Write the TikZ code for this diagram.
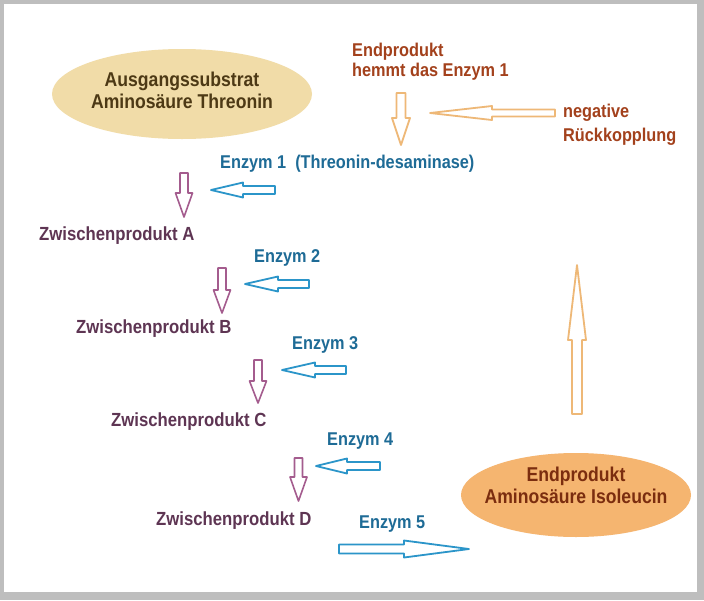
\documentclass[tikz,border=0pt]{standalone}
\usepackage{fontspec}
\setmainfont{Liberation Sans}[FakeStretch=0.88]
\usetikzlibrary{calc,shapes.geometric}
\definecolor{framegray}{HTML}{BEBEBE}
\definecolor{tanfill}{HTML}{F1DCA8}
\definecolor{orangefill}{HTML}{F5B570}
\definecolor{arrorange}{HTML}{EEB877}
\definecolor{blueline}{HTML}{2B95C9}
\definecolor{bluetext}{HTML}{1E6B96}
\definecolor{purpline}{HTML}{A45C8E}
\definecolor{purptext}{HTML}{5E3553}
\definecolor{rust}{HTML}{A3411C}
\definecolor{darkrust}{HTML}{7B2D0F}
\definecolor{olivebrown}{HTML}{4D3915}
% #1 tail, #2 tip, #3 shaft half width, #4 head half width, #5 head length, #6 style
\newcommand{\blockarrow}[6]{%
  \coordinate (bah) at ($(#2)!#5pt!(#1)$);
  \draw[#6] ($(#1)!#3pt!90:(#2)$) -- ($(bah)!#3pt!-90:(#1)$) -- ($(bah)!#4pt!-90:(#1)$)
    -- (#2) -- ($(bah)!#4pt!90:(#1)$) -- ($(bah)!#3pt!90:(#1)$) -- ($(#1)!#3pt!-90:(#2)$) -- cycle;
}
\tikzset{
  lbl/.style={anchor=base west, inner sep=0pt, font=\bfseries\fontsize{18.5}{22}\selectfont},
  enz/.style={lbl, text=bluetext},
  zw/.style={lbl, text=purptext, font=\bfseries\fontsize{19}{22}\selectfont},
  note/.style={lbl, text=rust, align=left},
  oval/.style={ellipse, inner xsep=-45pt, inner ysep=-12pt, align=center, font=\bfseries\fontsize{20}{22}\selectfont},
  oarrow/.style={draw=arrorange, fill=white, line width=1.8pt, line join=round},
  barrow/.style={draw=blueline, fill=white, line width=1.8pt, line join=round},
  parrow/.style={draw=purpline, fill=white, line width=1.6pt, line join=round},
}
\begin{document}
\begin{tikzpicture}[x=1pt,y=-1pt]
\useasboundingbox (0,0) rectangle (704,600);
\fill[framegray] (0,0) rectangle (704,600);
\fill[white] (4,4) rectangle (697,592);

% ellipses
\node[oval, fill=tanfill, text=olivebrown, minimum width=260pt, minimum height=90pt]
  (start) at (182,94) {Ausgangssubstrat\\Aminosäure Threonin\rule[-8pt]{0pt}{8pt}};
\node[oval, fill=orangefill, text=darkrust, minimum width=230pt, minimum height=84pt]
  (end) at (576,495) {Endprodukt\\Aminosäure Isoleucin\rule[-20pt]{0pt}{20pt}};

% annotations (base anchor = baseline of the last line)
\node[note, font=\bfseries\fontsize{18.5}{20}\selectfont] (hemmt) at (352,76) {Endprodukt\\hemmt das Enzym 1};
\node[note, font=\bfseries\fontsize{18.5}{23.5}\selectfont] (neg) at (563,141) {negative\\Rückkopplung};

% enzyme labels
\node[enz] (e1) at (220,168) {Enzym 1~ (Threonin-desaminase)};
\node[enz] (e2) at (254,262) {Enzym 2};
\node[enz] (e3) at (292,349) {Enzym 3};
\node[enz] (e4) at (327,445) {Enzym 4};
\node[enz] (e5) at (359,528) {Enzym 5};

% intermediates
\node[zw] (za) at (39,240) {Zwischenprodukt A};
\node[zw] (zb) at (76,333) {Zwischenprodukt B};
\node[zw] (zc) at (111,426) {Zwischenprodukt C};
\node[zw] (zd) at (156,525) {Zwischenprodukt D};

% orange feedback arrows
\coordinate (od1) at (401,93);  \coordinate (od2) at (401,145);
\coordinate (ol1) at (555,113); \coordinate (ol2) at (430,113);
\coordinate (ou1) at (577,414); \coordinate (ou2) at (577,265);
\blockarrow{od1}{od2}{4.5}{9}{27}{oarrow}
\blockarrow{ol1}{ol2}{3.5}{7}{62}{oarrow}
\blockarrow{ou1}{ou2}{5}{9}{75}{oarrow}

% blue enzyme arrows
\coordinate (b1t) at (275,190); \coordinate (b1h) at (211,190);
\coordinate (b2t) at (309,284); \coordinate (b2h) at (245,284);
\coordinate (b3t) at (346,370); \coordinate (b3h) at (282,370);
\coordinate (b4t) at (380,466); \coordinate (b4h) at (316,466);
\coordinate (b5t) at (339,549); \coordinate (b5h) at (469,549);
\blockarrow{b1t}{b1h}{4}{7.5}{32}{barrow}
\blockarrow{b2t}{b2h}{4}{7.5}{33}{barrow}
\blockarrow{b3t}{b3h}{4}{7.5}{33}{barrow}
\blockarrow{b4t}{b4h}{4}{7.5}{31}{barrow}
\blockarrow{b5t}{b5h}{4.5}{8.5}{65}{barrow}

% purple step arrows
\coordinate (p1t) at (184,173); \coordinate (p1h) at (184,217);
\coordinate (p2t) at (222,268); \coordinate (p2h) at (222,313);
\coordinate (p3t) at (258,360); \coordinate (p3h) at (258,403);
\coordinate (p4t) at (298.5,458); \coordinate (p4h) at (298.5,501);
\blockarrow{p1t}{p1h}{4}{8.5}{24}{parrow}
\blockarrow{p2t}{p2h}{4}{8.5}{23}{parrow}
\blockarrow{p3t}{p3h}{4}{8.5}{22}{parrow}
\blockarrow{p4t}{p4h}{4}{8.5}{24}{parrow}
\end{tikzpicture}
\end{document}
